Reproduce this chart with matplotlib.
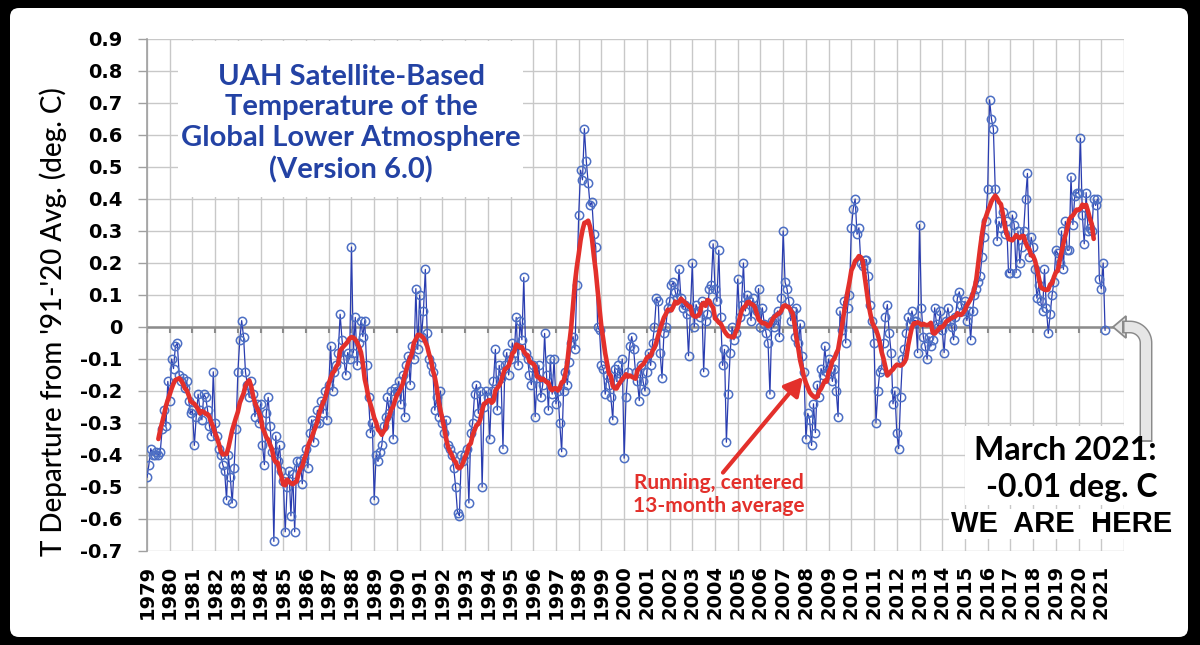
import matplotlib
matplotlib.use("Agg")
import matplotlib.pyplot as plt
import matplotlib.patches as mpatches
import matplotlib.transforms as mtransforms
from matplotlib.lines import Line2D
import numpy as np
import pandas as pd

# UAH v6.0 global lower atmosphere, deg C departure from the 1991-2020 mean,
# one value per month starting January 1979
anom_1979_1988 = [
    -0.47, -0.43, -0.38, -0.40, -0.40, -0.39, -0.40, -0.39, -0.32, -0.26, -0.31, -0.17,  # 1979
    -0.23, -0.10, -0.13, -0.06, -0.05, -0.15, -0.17, -0.16, -0.19, -0.17, -0.23, -0.27,  # 1980
    -0.26, -0.37, -0.28, -0.21, -0.26, -0.29, -0.21, -0.22, -0.26, -0.31, -0.34, -0.14,  # 1981
    -0.30, -0.34, -0.38, -0.40, -0.43, -0.45, -0.54, -0.40, -0.47, -0.55, -0.44, -0.32,  # 1982
    -0.14, -0.04, 0.02, -0.03, -0.14, -0.18, -0.22, -0.17, -0.21, -0.28, -0.24, -0.30,   # 1983
    -0.24, -0.37, -0.43, -0.27, -0.22, -0.31, -0.39, -0.67, -0.34, -0.42, -0.37, -0.45,  # 1984
    -0.48, -0.64, -0.50, -0.45, -0.59, -0.46, -0.64, -0.42, -0.44, -0.42, -0.49, -0.41,  # 1985
    -0.38, -0.44, -0.33, -0.29, -0.36, -0.30, -0.26, -0.30, -0.23, -0.27, -0.20, -0.29,  # 1986
    -0.18, -0.06, -0.20, -0.14, -0.12, -0.08, 0.04, -0.04, -0.10, -0.15, -0.08, -0.10,   # 1987
    0.25, -0.08, 0.03, -0.12, -0.05, 0.02, -0.03, 0.02, -0.12, -0.22, -0.33, -0.30,      # 1988
]
anom_1989_1998 = [
    -0.54, -0.40, -0.42, -0.39, -0.37, -0.31, -0.28, -0.22, -0.27, -0.20, -0.35, -0.19,  # 1989
    -0.20, -0.17, -0.24, -0.15, -0.28, -0.12, -0.09, -0.18, -0.06, -0.10, 0.12, -0.07,   # 1990
    0.10, -0.03, 0.05, 0.18, -0.02, -0.10, -0.12, -0.14, -0.26, -0.22, -0.28, -0.20,     # 1991
    -0.30, -0.33, -0.29, -0.37, -0.38, -0.40, -0.44, -0.50, -0.58, -0.59, -0.40, -0.42,  # 1992
    -0.40, -0.38, -0.55, -0.33, -0.30, -0.21, -0.18, -0.27, -0.20, -0.50, -0.25, -0.20,  # 1993
    -0.22, -0.35, -0.20, -0.17, -0.07, -0.26, -0.12, -0.16, -0.38, -0.12, -0.08, -0.15,  # 1994
    -0.10, -0.05, -0.08, 0.03, -0.12, 0.02, -0.04, 0.155, -0.08, -0.10, -0.15, -0.18,    # 1995
    -0.12, -0.28, -0.16, -0.12, -0.22, -0.18, -0.02, -0.15, -0.26, -0.10, -0.21, -0.10,  # 1996
    -0.24, -0.20, -0.30, -0.39, -0.20, -0.14, -0.18, -0.11, -0.05, -0.03, -0.07, 0.13,   # 1997
    0.35, 0.49, 0.46, 0.62, 0.52, 0.45, 0.38, 0.39, 0.29, 0.25, 0.00, -0.01,             # 1998
]
anom_1999_2008 = [
    -0.12, -0.13, -0.21, -0.15, -0.18, -0.22, -0.29, -0.13, -0.17, -0.12, -0.16, -0.10,  # 1999
    -0.41, -0.22, -0.14, -0.06, -0.03, -0.07, -0.14, -0.17, -0.23, -0.12, -0.17, -0.20,  # 2000
    -0.14, -0.08, -0.12, -0.05, 0.00, 0.09, 0.08, -0.08, -0.16, -0.02, 0.00, 0.06,       # 2001
    0.08, 0.13, 0.14, 0.11, 0.09, 0.18, 0.09, 0.06, 0.07, 0.04, -0.09, 0.05,             # 2002
    0.20, 0.00, 0.07, 0.05, 0.03, 0.08, -0.14, 0.02, 0.04, 0.12, 0.13, 0.26,             # 2003
    0.12, 0.08, 0.24, 0.03, -0.12, -0.07, -0.36, -0.21, -0.08, 0.00, -0.04, -0.02,       # 2004
    0.15, 0.03, 0.07, 0.20, 0.05, 0.10, 0.08, 0.02, 0.09, 0.06, 0.05, 0.12,              # 2005
    0.00, 0.06, 0.01, -0.02, -0.05, -0.21, 0.02, 0.00, 0.03, 0.05, -0.03, 0.09,          # 2006
    0.30, 0.14, 0.12, 0.08, 0.02, 0.05, -0.03, 0.06, -0.05, 0.01, -0.09, -0.14,          # 2007
    -0.35, -0.27, -0.29, -0.37, -0.24, -0.33, -0.18, -0.22, -0.13, -0.15, -0.06, -0.14,  # 2008
]
anom_2009_2021 = [
    -0.10, -0.13, -0.17, -0.13, -0.20, -0.28, 0.05, -0.01, 0.08, -0.05, 0.06, 0.10,      # 2009
    0.31, 0.37, 0.40, 0.29, 0.31, 0.20, 0.19, 0.21, 0.21, 0.16, 0.07, 0.02,              # 2010
    -0.05, -0.30, -0.20, -0.14, -0.13, -0.05, 0.03, 0.07, -0.02, -0.08, -0.24, -0.20,    # 2011
    -0.33, -0.38, -0.22, -0.10, -0.07, -0.02, 0.03, 0.01, 0.05, 0.02, 0.02, -0.08,       # 2012
    0.32, 0.06, -0.03, -0.06, -0.10, -0.03, -0.06, -0.04, 0.06, 0.01, 0.00, 0.05,        # 2013
    -0.01, -0.08, 0.02, 0.06, 0.02, 0.00, -0.04, 0.03, 0.09, 0.11, 0.07, 0.05,           # 2014
    0.08, 0.02, 0.05, -0.04, 0.05, 0.10, 0.12, 0.14, 0.16, 0.22, 0.28, 0.33,             # 2015
    0.43, 0.71, 0.65, 0.62, 0.43, 0.27, 0.33, 0.31, 0.36, 0.29, 0.33, 0.17,              # 2016
    0.17, 0.35, 0.32, 0.17, 0.30, 0.20, 0.25, 0.30, 0.40, 0.48, 0.22, 0.28,              # 2017
    0.25, 0.18, 0.09, 0.13, 0.08, 0.05, 0.18, 0.06, -0.02, 0.04, 0.10, 0.14,             # 2018
    0.24, 0.23, 0.20, 0.30, 0.18, 0.33, 0.24, 0.24, 0.47, 0.32, 0.41, 0.42,              # 2019
    0.42, 0.59, 0.35, 0.26, 0.42, 0.30, 0.31, 0.30, 0.40, 0.38, 0.40, 0.15,              # 2020
    0.12, 0.20, -0.01,                                                                   # 2021
]

first_year = 1979
year_labels = [str(y) for y in range(1979, 2022)]
y_ticks = [-0.7, -0.6, -0.5, -0.4, -0.3, -0.2, -0.1, 0.0, 0.1, 0.2, 0.3, 0.4, 0.5, 0.6, 0.7, 0.8, 0.9]

anomaly = np.array(anom_1979_1988 + anom_1989_1998 + anom_1999_2008 + anom_2009_2021)
months = first_year + np.arange(len(anomaly)) / 12.0
running = pd.Series(anomaly).rolling(13, center=True).mean()

W, H = 1200, 645
BLUE_LINE = "#2a3db0"
BLUE_MARK = "#4d6fc4"
RED = "#e3302b"
TITLE_BLUE = "#2342a4"
GRID = "#c8c8c8"
AXIS_GREY = "#8c8c8c"

fig = plt.figure(figsize=(W / 100, H / 100), dpi=100)
fig.patch.set_facecolor("black")
# pixel coordinates of the picture, origin top-left
px = mtransforms.Affine2D().scale(1 / W, -1 / H).translate(0, 1) + fig.transFigure

page = mpatches.FancyBboxPatch((10, 8), 1178, 629, boxstyle="round,pad=0,rounding_size=9",
                               transform=px, fc="white", ec="none", zorder=-10)
fig.add_artist(page)

ax = fig.add_axes([147 / W, 94 / H, 977 / W, 512 / H])
ax.set_facecolor("white")
ax.set_xlim(1979, 2022)
ax.set_ylim(-0.7, 0.9)

# grid and axes
ax.set_axisbelow(True)
ax.set_xticks(list(range(1979, 2023)))
ax.set_xticklabels(year_labels + [""], rotation=90, fontsize=14, fontweight="bold",
                   family=["DejaVu Sans"])
ax.set_yticks(y_ticks)
ax.set_yticklabels(["0" if v == 0 else f"{v:.1f}" for v in y_ticks], fontsize=14,
                   fontweight="bold", family=["DejaVu Sans"])
ax.grid(True, color=GRID, lw=1.0)
for side in ("top", "right", "bottom"):
    ax.spines[side].set_visible(False)
ax.spines["left"].set_color("#a0a0a0")
ax.spines["left"].set_linewidth(1.2)
ax.tick_params(axis="y", length=6.5, width=1, color="#a0a0a0", pad=11)
ax.tick_params(axis="x", length=0, pad=10)

ax.axhline(0, color=AXIS_GREY, lw=1.8, zorder=1.5)
ax.plot(range(1979, 2022), np.zeros(len(year_labels)), ls="none", marker=3, ms=4.5,
        mew=1.5, color=AXIS_GREY, zorder=1.6)

# data
ax.plot(months, anomaly, color=BLUE_LINE, lw=0.9, marker="o", ms=6.0, mfc="none",
        mec=BLUE_MARK, mew=1.1, zorder=3)
ax.plot(months, running, color=RED, lw=3.3, zorder=4, solid_capstyle="round")

# title box
ax.add_patch(mpatches.Rectangle((1980.36, 0.406), 15.2, 0.489, fc="white", ec="none", zorder=2))
ax.text(1987.98, 0.636, "UAH Satellite-Based\nTemperature of the\nGlobal Lower Atmosphere\n(Version 6.0)",
        ha="center", va="center", multialignment="center", color=TITLE_BLUE, fontsize=21,
        fontweight="bold", family=["Lato", "DejaVu Sans"], linespacing=1.22, zorder=5)

# running-mean annotation
ax.text(2004.18, -0.523, "Running, centered\n13-month average", ha="center", va="center",
        multialignment="center", color=RED, fontsize=15, fontweight="bold",
        family=["Lato", "DejaVu Sans"], linespacing=1.2, zorder=5)
ax.annotate("", xy=(2007.87, -0.156), xytext=(2004.35, -0.455),
            arrowprops=dict(arrowstyle="-|>,head_length=0.55,head_width=0.3", mutation_scale=20,
                            color=RED, lw=3, shrinkA=0, shrinkB=0), zorder=5)

# "we are here" box
ax.add_patch(mpatches.Rectangle((2015.0, -0.555), 7.1, 0.245, fc="white", ec="none",
                                zorder=2, clip_on=False))
fig.text(1157, 460, "March 2021:", transform=px, ha="right", va="baseline", fontsize=23,
         fontweight="bold", family=["Lato", "DejaVu Sans"])
fig.text(1158, 497, "-0.01 deg. C", transform=px, ha="right", va="baseline", fontsize=23,
         fontweight="bold", family=["Lato", "DejaVu Sans"])
fig.text(1172, 532, "WE  ARE  HERE", transform=px, ha="right", va="baseline", fontsize=21,
         fontweight="bold", family=["Liberation Sans", "DejaVu Sans"],
         bbox=dict(fc="white", ec="none", pad=1))

# grey bent arrow pointing at the last month
R = 16
theta = np.linspace(0, np.pi / 2, 20)
arc_x = 1146 - R + R * np.cos(theta)
arc_y = 327 + R - R * np.sin(theta)
shaft_x = np.concatenate([[1146], arc_x, [1122]])
shaft_y = np.concatenate([[442], arc_y, [327]])
fig.add_artist(Line2D(shaft_x, shaft_y, transform=px, color="#8a8a8a", lw=9.3,
                      solid_capstyle="butt", solid_joinstyle="round"))
head = mpatches.Polygon([[1113, 327], [1126, 316], [1126, 338]], closed=True, transform=px,
                        fc="#e6e6e6", ec="#8a8a8a", lw=1.3)
fig.add_artist(head)
fig.add_artist(Line2D(shaft_x[:-1].tolist() + [1124.5], shaft_y[:-1].tolist() + [327],
                      transform=px, color="#e6e6e6", lw=7.2, solid_capstyle="butt",
                      solid_joinstyle="round"))
fig.add_artist(Line2D([1141.0, 1151.0], [441.2, 441.2], transform=px, color="#8a8a8a", lw=1.3))

fig.text(53, 322, "T Departure from '91-'20 Avg. (deg. C)", transform=px, rotation=90,
         ha="center", va="center", fontsize=20, fontweight="medium",
         family=["Lato", "DejaVu Sans"])

fig.savefig("out.png", dpi=100, facecolor=fig.get_facecolor())
